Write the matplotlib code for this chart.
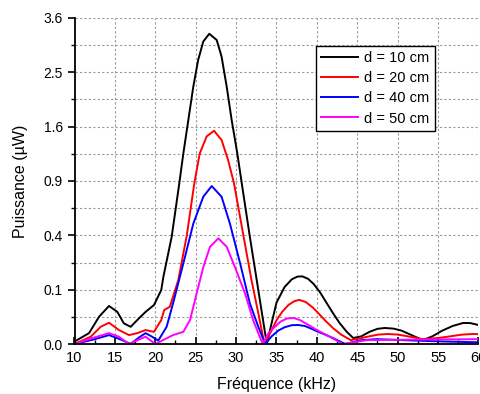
import matplotlib.pyplot as plt
import numpy as np
from matplotlib.ticker import FixedLocator

plt.rcParams['font.family'] = ['Liberation Sans', 'DejaVu Sans']

# d = 10 cm
f10 = [10, 11.8, 13.03, 14.27, 15.3, 16.1, 16.95, 17.77, 18.8, 19.84, 20.74, 21.0, 22.03, 22.97,
       23.47, 24.09, 24.7, 25.3, 25.94, 26.68, 27.6, 28.2, 28.84, 29.45, 30.15, 30.7, 31.7, 32.55,
       33.2, 33.8, 34.4, 35.0, 36.0, 36.9, 37.6, 38.2, 38.9, 39.6, 40.4, 41.2, 42.0, 42.8, 43.7,
       44.5, 45.5, 46.5, 47.5, 48.4, 49.5, 50.5, 51.8, 53.1, 54.3, 55.5, 56.8, 58.1, 59.0, 60]
p10 = [0.0002, 0.004, 0.025, 0.049, 0.035, 0.0145, 0.01, 0.0195, 0.035, 0.0515, 0.099, 0.153, 0.39, 0.875,
       1.23, 1.70, 2.24, 2.73, 3.10, 3.26, 3.13, 2.80, 2.24, 1.70, 1.23, 0.875, 0.39, 0.139,
       0.032, 0.0, 0.015, 0.058, 0.11, 0.142, 0.154, 0.155, 0.144, 0.122, 0.09, 0.057, 0.032, 0.015, 0.005,
       0.0012, 0.002, 0.005, 0.0078, 0.0087, 0.008, 0.006, 0.0025, 0.0005, 0.002, 0.006, 0.011, 0.015, 0.0148, 0.0122]

# d = 20 cm
f20 = [10, 12.0, 13.24, 14.27, 15.5, 16.75, 17.77, 18.8, 19.84, 20.74, 21.1, 21.8, 22.85, 23.9,
       24.83, 25.5, 26.36, 27.27, 28.2, 29.0, 29.74, 30.9, 31.9, 32.75, 33.5, 34.3, 35.0, 35.7, 36.5,
       37.2, 37.8, 38.6, 39.5, 40.3, 41.0, 42.0, 43.0, 44.2, 45.5, 46.5, 47.6, 48.8, 50.0, 51.0, 53.1,
       55.0, 56.5, 58.0, 59.3, 60]
p20 = [0.0, 0.0018, 0.01, 0.0153, 0.0066, 0.0027, 0.004, 0.0066, 0.005, 0.0195, 0.039, 0.047, 0.139, 0.4,
       0.875, 1.23, 1.46, 1.54, 1.41, 1.15, 0.875, 0.4, 0.139, 0.032, 0.0, 0.005, 0.019, 0.035, 0.052,
       0.062, 0.066, 0.06, 0.045, 0.03, 0.019, 0.0085, 0.003, 0.0005, 0.0012, 0.002, 0.003, 0.0034, 0.003, 0.0022,
       0.0008, 0.0012, 0.002, 0.003, 0.0034, 0.0033]

# d = 40 cm
f40 = [10, 12.4, 14.27, 15.7, 16.95, 18.0, 18.8, 19.6, 20.37, 21.4, 22.2, 23.47, 24.7, 25.94,
       26.98, 28.2, 29.24, 30.5, 31.7, 32.75, 33.6, 34.4, 35.2, 36.0, 36.9, 37.7, 38.5, 39.3, 40.0,
       41.0, 42.0, 43.5, 45.5, 47.4, 52.0, 56.0, 60]
p40 = [0.0, 0.0007, 0.0027, 0.0007, 0.0, 0.0015, 0.004, 0.0018, 0.0004, 0.01, 0.056, 0.22, 0.49, 0.735,
       0.845, 0.735, 0.49, 0.22, 0.056, 0.01, 0.0, 0.002, 0.006, 0.0095, 0.012, 0.0122, 0.011, 0.008, 0.0055,
       0.003, 0.0012, 0.0, 0.0005, 0.0008, 0.0004, 0.0002, 0.0001]

# d = 50 cm
f50 = [10, 12.0, 14.27, 15.5, 16.75, 18.0, 18.8, 20.0, 21.2, 22.2, 23.47, 24.3, 25.12, 25.94,
       26.77, 27.8, 28.84, 29.86, 31.1, 32.1, 32.95, 33.3, 34.0, 34.8, 35.5, 36.3, 37.1, 37.9, 39.0,
       40.0, 41.5, 43.2, 46.2, 50.0, 55.0, 60]
p50 = [0.0, 0.001, 0.004, 0.0018, 0.0, 0.0007, 0.0018, 0.0, 0.0008, 0.0027, 0.005, 0.0195, 0.087, 0.2,
       0.32, 0.378, 0.32, 0.2, 0.087, 0.0195, 0.0015, 0.0, 0.004, 0.01, 0.017, 0.022, 0.023, 0.0195, 0.012,
       0.0066, 0.002, 0.0, 0.0005, 0.0006, 0.0007, 0.0008]

labels = ['d = 10 cm', 'd = 20 cm', 'd = 40 cm', 'd = 50 cm']
colors = ['black', 'red', 'blue', 'magenta']

yticks = [0.0, 0.1, 0.4, 0.9, 1.6, 2.5, 3.6]
yminor = [0.025, 0.225, 0.625, 1.225, 2.025, 3.025]

fig = plt.figure(figsize=(4.81, 3.94), dpi=100)
ax = fig.add_axes([74.5 / 481, 1 - 344 / 394, 404 / 481, 326 / 394])

for f, p, lab, c in zip([f10, f20, f40, f50], [p10, p20, p40, p50], labels, colors):
    ax.plot(f, p, color=c, lw=1.4, label=lab, solid_joinstyle='round')

ax.set_yscale('function', functions=(lambda v: np.sqrt(np.clip(v, 0, None)), lambda v: np.square(v)))
ax.set_xlim(10, 60)
ax.set_ylim(0, 3.6)
ax.set_xticks(np.arange(10, 61, 5))
ax.xaxis.set_minor_locator(FixedLocator(np.arange(12.5, 60, 5)))
ax.yaxis.set_major_locator(FixedLocator(yticks))
ax.yaxis.set_minor_locator(FixedLocator(yminor))
ax.set_yticklabels(['%.1f' % v for v in yticks])

ax.grid(True, which='major', axis='x', color='#999999', ls=(0, (2, 2)), lw=0.8)
ax.grid(True, which='both', axis='y', color='#999999', ls=(0, (2, 2)), lw=0.8)

ax.spines['top'].set_visible(False)
ax.spines['right'].set_visible(False)
ax.spines['left'].set_linewidth(1.3)
ax.spines['bottom'].set_linewidth(1.3)
ax.tick_params(axis='y', which='major', direction='out', length=5, width=1.2, labelsize=10)
ax.tick_params(axis='y', which='minor', direction='out', length=3, width=1.0)
ax.tick_params(axis='x', which='major', direction='in', length=5, width=1.2, labelsize=10.5, pad=5)
ax.tick_params(axis='x', which='minor', direction='in', length=3, width=1.0)

ax.set_xlabel('Fréquence (kHz)', fontsize=11.5, labelpad=9)
ax.set_ylabel('Puissance (µW)', fontsize=11.5, labelpad=11)

leg = ax.legend(loc='upper left', bbox_to_anchor=(0.598, 0.914), fontsize=10.5, frameon=True,
                fancybox=False, edgecolor='black', handlelength=2.5, handletextpad=0.45,
                borderpad=0.35, labelspacing=0.42, borderaxespad=0, framealpha=1)
leg.get_frame().set_linewidth(1.0)

fig.savefig('out.png', dpi=100)
